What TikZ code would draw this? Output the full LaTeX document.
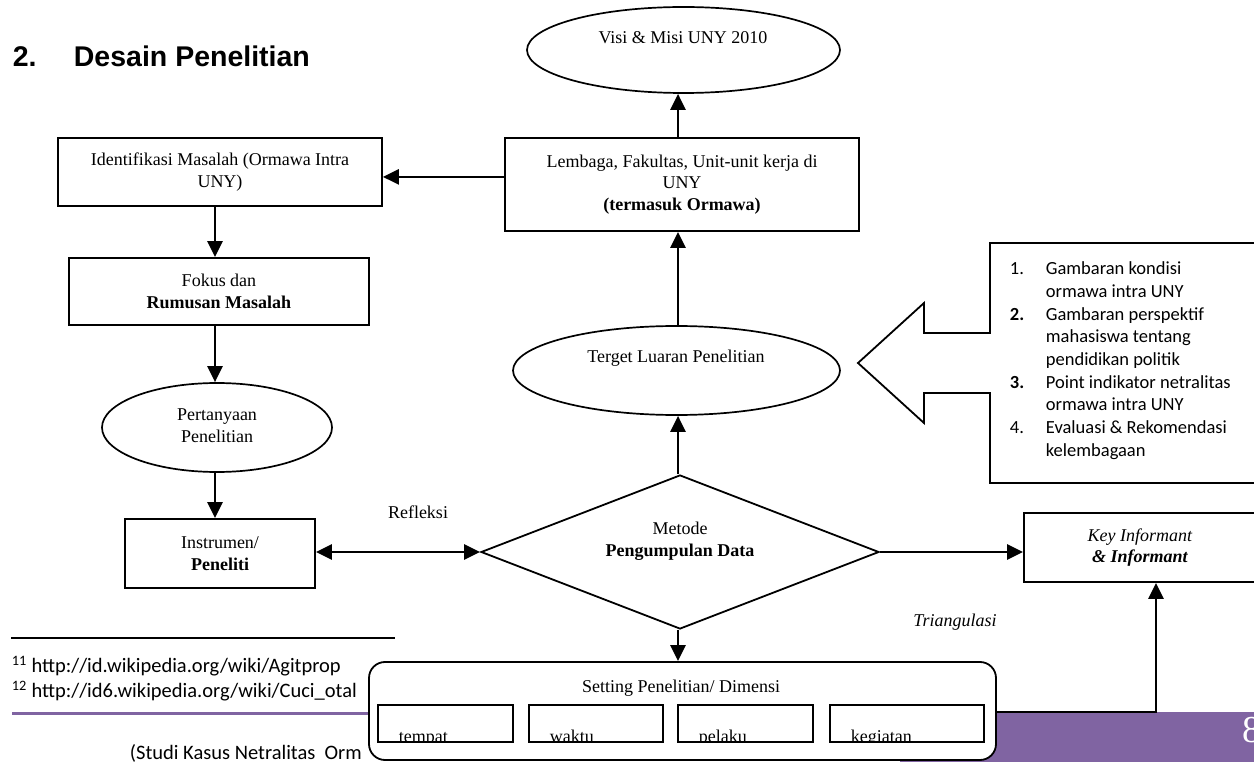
\documentclass[tikz,border=0pt]{standalone}
\usepackage{fontspec}
\setmainfont{Liberation Serif}
\newfontfamily\headfont{Liberation Sans}
\newfontfamily\calfont{Carlito}
\usetikzlibrary{shapes.geometric,arrows.meta,positioning,calc}

\definecolor{footpurple}{RGB}{128,100,162}

\tikzset{every picture/.style={line width=1.8pt}}
\tikzset{
  box/.style={draw, rectangle, inner sep=0pt, align=center, font=\fontsize{18}{21.5}\selectfont},
  oval/.style={draw, ellipse, inner sep=0pt, line width=1.7pt},
  lbl/.style={inner sep=0pt, align=center, font=\fontsize{18}{21.5}\selectfont},
  foot/.style={inner sep=0pt, anchor=west, font=\calfont\fontsize{20.5}{25}\selectfont},
  inbox/.style={draw, rectangle, inner sep=0pt, minimum height=37pt,
    path picture={\node[draw=none, minimum width=0pt, minimum height=0pt, anchor=base west, inner sep=0pt,
      font=\fontsize{18}{21.5}\selectfont]
      at ([xshift=20pt,yshift=-0.5pt]path picture bounding box.south west) {#1};}},
  arr/.style={-{Triangle[length=16pt,width=15pt]}, line width=2.6pt},
  arrboth/.style={{Triangle[length=16pt,width=15pt]}-{Triangle[length=16pt,width=15pt]}, line width=2.6pt},
}

\begin{document}
\begin{tikzpicture}[x=1pt,y=1pt,yscale=-1]
\clip (0,0) rectangle (1254,762);
\fill[white] (0,0) rectangle (1254,762);

\node[anchor=base west, inner sep=0pt, font=\headfont\bfseries\fontsize{28.5}{34}\selectfont] (judul) at (12,67) {\makebox[61pt][l]{2.}Desain Penelitian};

\fill[footpurple] (12,712) rectangle (1254,714.5);
\fill[footpurple] (900,712) rectangle (1254,762);
\node[anchor=west, inner sep=0pt, text=white, font=\fontsize{38}{40}\selectfont] (hal) at (1242,730) {8};

\draw[line width=1.5pt] (11,638) -- (395,638);
\node[foot] (fn11) at (11,666) {\textsuperscript{11} http://id.wikipedia.org/wiki/Agitprop};
\node[foot] (fn12) at (11,691) {\textsuperscript{12} http://id6.wikipedia.org/wiki/Cuci\_otal};
\node[foot] (studi) at (129,753) {(Studi Kasus Netralitas\ \ Orm};

\coordinate (sumbu) at (215,0);
\coordinate (poros) at (678,0);

\node[oval, minimum width=313pt, minimum height=86pt] (visi) at (683.5,50) {};
\node[lbl] (visitxt) at (683,38) {Visi \& Misi UNY 2010};

\node[box, minimum width=324pt, minimum height=68pt] (identif) at (220,172) {Identifikasi Masalah (Ormawa Intra\\UNY)};
\node[box, minimum width=354pt, minimum height=93pt] (lembaga) at (682,184.5) {Lembaga, Fakultas, Unit-unit kerja di\\UNY\\\textbf{(termasuk Ormawa)}};
\node[box, minimum width=300pt, minimum height=67pt] (fokus) at (219,291.5) {Fokus dan\\\textbf{Rumusan Masalah}};

\node[oval, minimum width=230pt, minimum height=89pt] (pert) at (217,427.5) {};
\node[lbl] (perttxt) at (217,425.5) {Pertanyaan\\Penelitian};

\node[box, minimum width=190pt, minimum height=69pt] (instr) at (220,553.5) {Instrumen/\\\textbf{Peneliti}};

\node[oval, minimum width=327pt, minimum height=89pt] (terget) at (676.5,370.5) {};
\node[lbl] (tergettxt) at (676,358) {Terget Luaran Penelitian};

\node[draw, diamond, inner sep=0pt, aspect=2.6, minimum width=398pt, minimum height=154pt] (metode) at (680,552) {};
\node[lbl] (metodetxt) at (680,541) {Metode\\\textbf{Pengumpulan Data}};

\node[box, minimum width=232pt, minimum height=69pt] (key) at (1140,547.5) {\textit{Key Informant}\\\textbf{\textit{\& Informant}}};

\node[lbl] (refleksi) at (418,512) {Refleksi};
\node[lbl] (triangulasi) at (955,622) {\textit{Triangulasi}};

\draw[fill=white] (990,243) -- (1260,243) -- (1260,483) -- (990,483) -- (990,393) -- (924,393)
  -- (924,423) -- (858,363) -- (924,303) -- (924,333) -- (990,333) -- cycle;
\node[anchor=north west, inner sep=0pt, align=left, font=\calfont\fontsize{18.5}{22.7}\selectfont] (luaran) at (1009,261)
  {\makebox[36pt][l]{1.}Gambaran kondisi\\
   \hspace*{36pt}ormawa intra UNY\\
   \makebox[36pt][l]{\textbf{2.}}Gambaran perspektif\\
   \hspace*{36pt}mahasiswa tentang\\
   \hspace*{36pt}pendidikan politik\\
   \makebox[36pt][l]{\textbf{3.}}Point indikator netralitas\\
   \hspace*{36pt}ormawa intra UNY\\
   \makebox[36pt][l]{4.}Evaluasi \& Rekomendasi\\
   \hspace*{36pt}kelembagaan};

\node[draw, fill=white, rectangle, rounded corners=16pt, minimum width=627pt, minimum height=98pt] (setbox) at (682.5,711) {};
\node[lbl] (settitle) at (681,688) {Setting Penelitian/ Dimensi};
\node[inbox=tempat, minimum width=135pt] (tempat) at (445.5,723.5) {};
\node[inbox=waktu, minimum width=134pt] (waktu) at (596,723.5) {};
\node[inbox=pelaku, minimum width=135pt] (pelaku) at (745.5,723.5) {};
\node[inbox=kegiatan, minimum width=154pt] (kegiatan) at (907,723.5) {};

\coordinate (lkiri) at ($(lembaga.north west)!0.42!(lembaga.south west)$);
\coordinate (belok) at (1156,712);

\draw[arr] (lembaga.north -| poros) -- (visi.south -| poros);
\draw[arr] (lkiri) -- (lkiri -| identif.east);
\draw[arr] (identif.south -| sumbu) -- (fokus.north -| sumbu);
\draw[arr] (fokus.south -| sumbu) -- (pert.north -| sumbu);
\draw[arr] (pert.south -| sumbu) -- (instr.north -| sumbu);
\draw[arrboth] (instr.east |- metode.west) -- (metode.west);
\draw[arr] (metode.north -| poros) -- (terget.south -| poros);
\draw[arr] (terget.north -| poros) -- (lembaga.south -| poros);
\draw[arr] (metode.east) -- (key.west |- metode.east);
\draw[arr] (metode.south -| poros) -- (setbox.north -| poros);
\draw[arr] (setbox.east |- belok) -- (belok) -- (belok |- key.south);

\end{tikzpicture}
\end{document}
